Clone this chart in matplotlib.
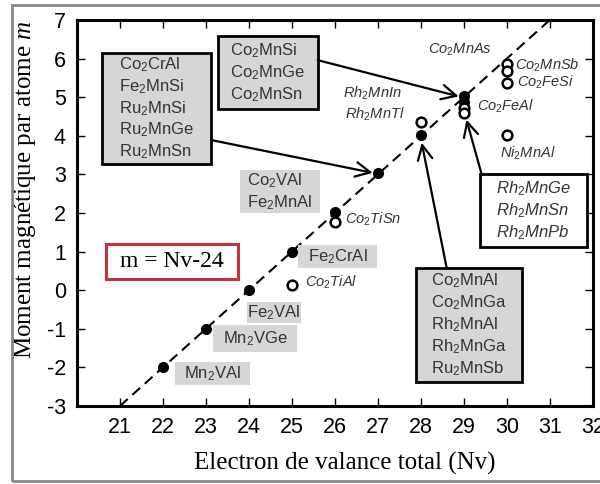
import numpy as np
import matplotlib.pyplot as plt
import matplotlib
from matplotlib.patches import Rectangle

plt.rcParams['font.family'] = ['Liberation Sans', 'DejaVu Sans']
plt.rcParams['mathtext.fontset'] = 'custom'
plt.rcParams['mathtext.rm'] = 'Liberation Sans'
plt.rcParams['mathtext.it'] = 'Liberation Serif:italic'
plt.rcParams['axes.unicode_minus'] = False

# valence electrons / moment : filled (closed) and open symbols
full_nv = [22, 23, 24, 25, 26, 27, 28, 29, 29]
full_m = [-2.0, -1.0, 0.0, 1.0, 2.03, 3.04, 4.02, 5.02, 4.88]
open_nv = [25, 26, 28, 29, 29, 30, 30, 30, 30]
open_m = [0.13, 1.77, 4.36, 4.72, 4.59, 5.85, 5.68, 5.37, 4.02]

# Slater-Pauling line m = Nv - 24
sp_nv = np.array([21, 31])
sp_m = sp_nv - 24

x_ticks = list(range(21, 33))
y_ticks = list(range(-3, 8))

fig = plt.figure(figsize=(6.0, 4.84), dpi=100)
ax = fig.add_axes([0.1283, 0.1612, 0.8597, 0.7975])

ax.plot(sp_nv, sp_m, color='black', lw=1.5, ls=(0, (5, 3)), zorder=2)
ax.plot(full_nv, full_m, 'o', color='black', ms=7, zorder=4)
ax.plot(open_nv, open_m, 'o', mfc='white', mec='black', mew=1.8, ms=7, zorder=4)

ax.set_xlim(20, 32)
ax.set_ylim(-3, 7)
ax.set_xticks(x_ticks)
ax.set_yticks(y_ticks)
ax.tick_params(direction='in', length=6, width=1, labelsize=15.5, pad=8,
               top=True, right=True)
for s in ax.spines.values():
    s.set_linewidth(2.2)

ax.set_xlabel('Electron de valance total (Nv)', family='Liberation Serif', fontsize=18)
ax.set_ylabel('Moment magnétique par atome $m$', family='Liberation Serif', fontsize=18)
ax.xaxis.set_label_coords(0.52, -0.12)
ax.yaxis.set_label_coords(-0.075, 0.56)


def boxed(x0, y0, x1, y1, text, ec='black', lw=2.0, italic=False, fs=12,
          fc='#d6d6d6'):
    ax.add_patch(Rectangle((x0, y0), x1 - x0, y1 - y0, fc=fc, ec=ec,
                           lw=lw, zorder=3))
    ax.text((x0 + x1) / 2, (y0 + y1) / 2, text, ha='center', va='center',
            multialignment='left', fontsize=fs, linespacing=1.25,
            style='italic' if italic else 'normal', color='#333333', zorder=5)


boxed(20.58, 3.27, 23.12, 6.15,
      'Co$_2$CrAl\nFe$_2$MnSi\nRu$_2$MnSi\nRu$_2$MnGe\nRu$_2$MnSn')
boxed(23.28, 4.69, 25.6, 6.59, 'Co$_2$MnSi\nCo$_2$MnGe\nCo$_2$MnSn')
boxed(29.37, 1.12, 31.86, 3.01, 'Rh$_2$MnGe\nRh$_2$MnSn\nRh$_2$MnPb',
      italic=True, fc='white')
boxed(27.88, -2.38, 30.35, 0.58,
      'Co$_2$MnAl\nCo$_2$MnGa\nRh$_2$MnAl\nRh$_2$MnGa\nRu$_2$MnSb')
boxed(23.79, 2.0, 25.65, 3.11, 'Co$_2$VAl\nFe$_2$MnAl', ec='none', lw=0)
boxed(25.14, 0.58, 26.98, 1.17, 'Fe$_2$CrAl', ec='none', lw=0)
boxed(23.95, -0.85, 25.2, -0.3, 'Fe$_2$VAl', ec='none', lw=0)
boxed(23.16, -1.6, 25.12, -0.9, 'Mn$_2$VGe', ec='none', lw=0)
boxed(22.28, -2.46, 24.02, -1.86, 'Mn$_2$VAl', ec='none', lw=0)

ax.add_patch(Rectangle((20.67, 0.29), 3.07, 0.91, fc='white', ec='#c23340',
                       lw=2.2, zorder=3))
ax.text(22.2, 0.745, 'm = Nv-24', ha='center', va='center',
        family='Liberation Serif', fontsize=17, zorder=5)

italic_labels = [
    (28.16, 6.22, 'Co$_2$MnAs'),
    (30.19, 5.82, 'Co$_2$MnSb'),
    (30.23, 5.38, 'Co$_2$FeSi'),
    (29.3, 4.75, 'Co$_2$FeAl'),
    (26.19, 5.1, 'Rh$_2$MnIn'),
    (26.23, 4.54, 'Rh$_2$MnTl'),
    (29.84, 3.55, 'Ni$_2$MnAl'),
    (26.23, 1.82, 'Co$_2$TiSn'),
    (25.3, 0.21, 'Co$_2$TiAl'),
]
for x, y, t in italic_labels:
    ax.text(x, y, t, ha='left', va='center', style='italic', fontsize=10.5,
            color='#333333', zorder=5)

arrows = [
    ((23.12, 3.89), (26.88, 3.04)),
    ((25.6, 5.96), (28.88, 5.02)),
    ((29.42, 2.98), (29.06, 4.42)),
    ((28.6, 0.58), (28.02, 3.82)),
]
for (x0, y0), (x1, y1) in arrows:
    ax.annotate('', xy=(x1, y1), xytext=(x0, y0),
                arrowprops=dict(arrowstyle='->,head_length=0.7,head_width=0.35',
                                color='black', lw=1.6, mutation_scale=15,
                                shrinkA=0, shrinkB=0), zorder=3)

# grey outer frame of the figure
fig.patches.append(Rectangle((12 / 600, 3 / 484), 0.99, 1 - 8 / 484,
                             transform=fig.transFigure, fill=False,
                             ec='#888888', lw=2))

fig.savefig('out.png', dpi=100)
